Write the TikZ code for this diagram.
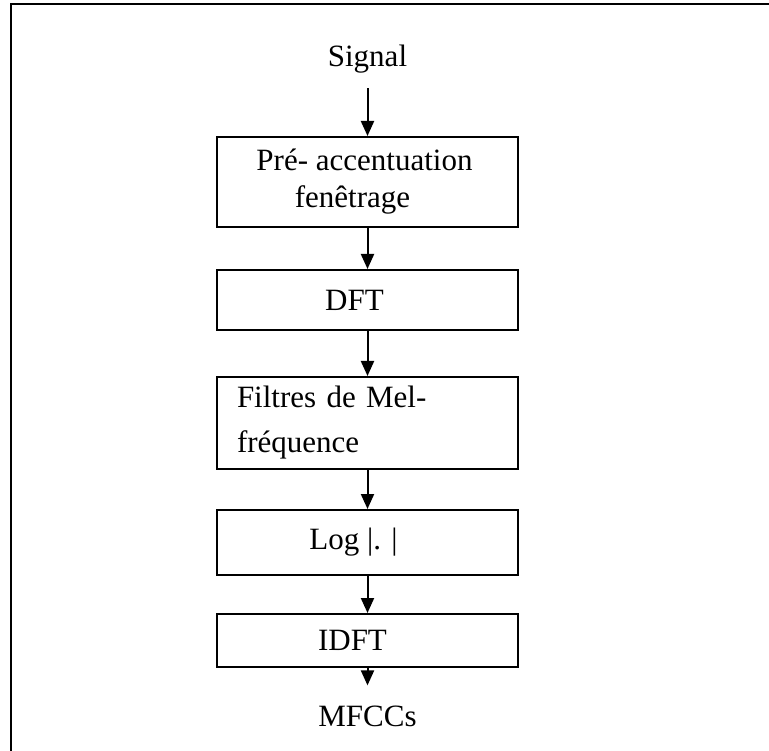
\documentclass[tikz,border=0pt]{standalone}
\usepackage{fontspec}
\setmainfont{Liberation Serif}
\usetikzlibrary{arrows.meta,positioning}

\begin{document}
\begin{tikzpicture}[
    x=1pt, y=-1pt,
    >={Triangle[length=15pt,width=13pt]},
    box/.style={draw, line width=2pt, minimum width=301pt, inner sep=0pt, align=center},
    arr/.style={->, line width=2pt},
    every node/.style={font=\fontsize{31}{37}\selectfont}
  ]
  \useasboundingbox (0,0) rectangle (769,751);
  % cadre
  \draw[line width=2pt] (11,780) -- (11,4) -- (790,4);

  \node[inner sep=0pt] (sig) at (367.5,59) {Signal};
  \node[box, minimum height=90pt] (pre) at (367.5,182) {Pré- accentuation\hspace*{6pt}\\fenêtrage\hspace*{30pt}};
  \node[box, minimum height=60pt, below=41pt of pre] (dft) {DFT\hspace*{26pt}};
  \node[box, minimum height=92pt, below=45pt of dft, align=left, text width=261pt,
        font=\fontsize{31}{45}\selectfont] (mel) {Filtres de Mel-\\fréquence};
  \node[box, minimum height=65pt, below=39pt of mel] (log) {Log |. |\hspace*{28pt}};
  \node[box, minimum height=53pt, below=37pt of log] (idft) {IDFT\hspace*{30pt}};
  \node[inner sep=0pt] (mfcc) at (367.5,716) {MFCCs};

  \draw[arr, shorten <=15pt] (sig) -- (pre);
  \draw[arr] (pre) -- (dft);
  \draw[arr] (dft) -- (mel);
  \draw[arr] (mel) -- (log);
  \draw[arr] (log) -- (idft);
  \draw[arr, shorten >=20pt] (idft) -- (mfcc);
\end{tikzpicture}
\end{document}
